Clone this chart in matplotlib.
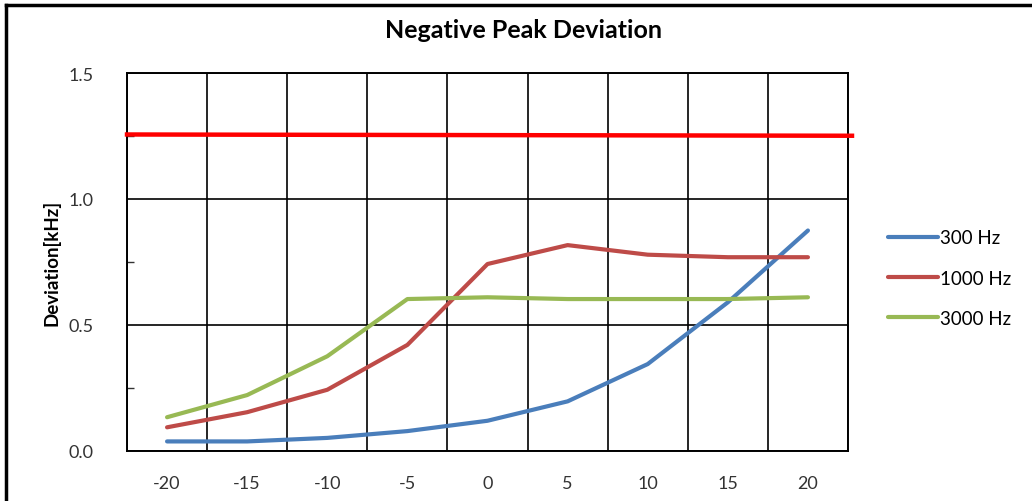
import matplotlib.pyplot as plt
import numpy as np

# offset settings along the x axis
offsets = ["-20", "-15", "-10", "-5", "0", "5", "10", "15", "20"]

dev_300 = [0.038, 0.038, 0.052, 0.079, 0.12, 0.197, 0.345, 0.59, 0.875]
dev_1000 = [0.094, 0.154, 0.243, 0.421, 0.742, 0.817, 0.779, 0.769, 0.769]
dev_3000 = [0.134, 0.222, 0.376, 0.603, 0.61, 0.603, 0.603, 0.603, 0.61]

# limit line, start and end level
limit = [1.256, 1.251]

plt.rcParams['font.family'] = ['Lato', 'DejaVu Sans']

fig = plt.figure(figsize=(10.32, 5.02), dpi=100)
ax = fig.add_axes([127 / 1032, 50 / 502, 721 / 1032, 378 / 502])

x = np.arange(len(offsets))
ax.plot(x, dev_300, color='#4A7EBB', lw=3, solid_capstyle='round', label='300 Hz', zorder=3)
ax.plot(x, dev_1000, color='#BE4B48', lw=3, solid_capstyle='round', label='1000 Hz', zorder=3)
ax.plot(x, dev_3000, color='#98B954', lw=3, solid_capstyle='round', label='3000 Hz', zorder=3)
ax.plot([-0.5, 8.55], limit, color='#FF0000', lw=3.2, clip_on=False, zorder=4)

ax.set_xlim(-0.5, 8.5)
ax.set_ylim(0, 1.5)
ax.set_xticks(x)
ax.set_xticklabels(offsets)
ax.set_xticks(np.arange(-0.5, 9, 1), minor=True)
ax.set_yticks([0, 0.5, 1.0, 1.5])
ax.set_yticklabels(['0.0', '0.5', '1.0', '1.5'])
ax.set_yticks([0.25, 0.75, 1.25], minor=True)

ax.grid(True, which='minor', axis='x', color='black', lw=1.2, zorder=1)
ax.grid(True, which='major', axis='y', color='black', lw=1.2, zorder=1)
ax.tick_params(axis='x', which='both', length=0, pad=17, labelsize=13, labelcolor='#333333')
ax.tick_params(axis='y', which='major', length=0, pad=24, labelsize=13, labelcolor='#333333')
ax.tick_params(axis='y', which='minor', direction='in', length=5, width=1, color='#333333')
for s in ax.spines.values():
    s.set_color('black')
    s.set_linewidth(1.4)

ax.set_ylabel('Deviation[kHz]', fontsize=13.5, fontweight='bold', labelpad=6)
fig.text(0.507, 0.94, 'Negative Peak Deviation', ha='center', va='center',
         fontsize=18, fontweight='bold')

ax.legend(loc='center left', bbox_to_anchor=(0.853, 0.444), bbox_transform=fig.transFigure,
          frameon=False, fontsize=13.5, handlelength=2.7, handletextpad=0.1,
          labelspacing=1.25, borderaxespad=0)

# frame along the left and top edges
fig.add_artist(plt.Line2D([6 / 1032, 6 / 1032], [0, 1 - 6 / 502], color='black', lw=2.5))
fig.add_artist(plt.Line2D([6 / 1032, 1], [1 - 6 / 502, 1 - 6 / 502], color='black', lw=2.5))

fig.savefig('out.png', dpi=100)
